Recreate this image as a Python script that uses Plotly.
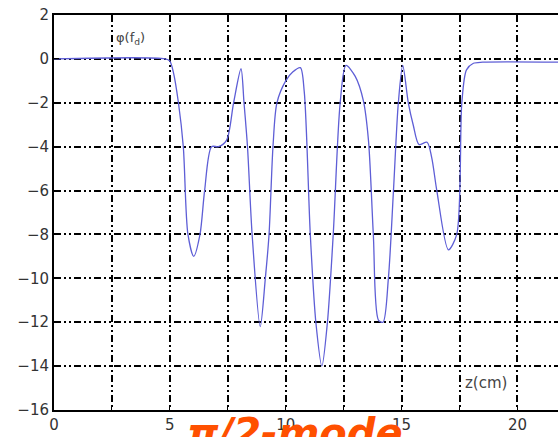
import plotly.graph_objects as go

# Data
z_cm = [0, 4.8, 5.0, 5.15, 5.37, 5.58, 5.78, 6.03, 6.3, 6.5, 6.8, 7.1, 7.45, 7.75, 8.07,
        8.2, 8.35, 8.55, 8.9, 9.12, 9.28, 9.45, 9.62, 10.0, 10.3, 10.63, 10.8, 11.06, 11.3,
        11.56, 11.8, 12.05, 12.35, 12.6, 13.0, 13.35, 13.57, 13.78, 14.0, 14.2, 14.43, 14.65,
        14.86, 15.05, 15.29, 15.5, 15.75, 16.1, 16.3, 16.52, 17.02, 17.38, 17.6, 17.8, 18.1,
        18.5, 21.8]
phi_fd = [0, 0, -0.1, -0.6, -2, -4, -8, -9, -8, -6, -4, -4, -3.7, -2, -0.45,
          -2, -4, -8, -12.2, -10, -8, -4, -2, -1.0, -0.6, -0.4, -1.5, -8, -12,
          -14, -12, -8, -2, -0.3, -0.8, -1.9, -3.7, -8, -11.9, -12, -10, -6,
          -2, -0.3, -2, -3, -3.9, -3.8, -4.5, -6, -8.7, -8, -2, -0.5, -0.2,
          -0.15, -0.15]

x_tickvals = [0, 2.5, 5, 7.5, 10, 12.5, 15, 17.5, 20]
x_ticktext = ["0", "", "5", "", "10", "", "15", "", "20"]
y_tickvals = [2, 0, -2, -4, -6, -8, -10, -12, -14, -16]
y_ticktext = ["2", "0", "\u22122", "\u22124", "\u22126", "\u22128", "\u221210", "\u221212", "\u221214", "\u221216"]

fig = go.Figure()
fig.add_trace(go.Scatter(x=z_cm, y=phi_fd, mode="lines",
                         line=dict(color="#5e5ed6", width=1.3, shape="spline", smoothing=0.8),
                         showlegend=False, hoverinfo="skip"))

grid_dash = "7px,3px,2px,3px,2px,3px"
fig.update_layout(
    width=558, height=437,
    margin=dict(l=54, r=0, t=15, b=27),
    paper_bgcolor="white", plot_bgcolor="white",
    font=dict(family="DejaVu Sans", size=15, color="#333333"),
    xaxis=dict(range=[0, 21.75], tickvals=x_tickvals, ticktext=x_ticktext,
               showgrid=True, gridcolor="black", gridwidth=2, griddash=grid_dash,
               showline=True, linecolor="black", linewidth=2, mirror=True,
               ticks="inside", ticklen=5, tickcolor="black", zeroline=False),
    yaxis=dict(range=[-16, 2], tickvals=y_tickvals, ticktext=y_ticktext,
               showgrid=True, gridcolor="black", gridwidth=2, griddash=grid_dash,
               showline=True, linecolor="black", linewidth=2, mirror=False,
               ticks="inside", ticklen=5, tickcolor="black", zeroline=False),
    annotations=[
        dict(x=2.6, y=0.95, xref="x", yref="y", xanchor="left", yanchor="middle",
             text="\u03c6(f<sub>d</sub>)", showarrow=False,
             font=dict(family="DejaVu Sans", size=13, color="#444444")),
        dict(x=17.65, y=-14.77, xref="x", yref="y", xanchor="left", yanchor="middle",
             text="z(cm)", showarrow=False,
             font=dict(family="DejaVu Sans", size=15, color="#444444")),
        dict(x=10.41, y=0.005, xref="x", yref="paper", xanchor="center", yanchor="top",
             text="<b><i>\u03c0/2-mode</i></b>", showarrow=False,
             font=dict(family="DejaVu Sans", size=40, color="#ff5000")),
    ],
)

fig.write_html("out.html")
